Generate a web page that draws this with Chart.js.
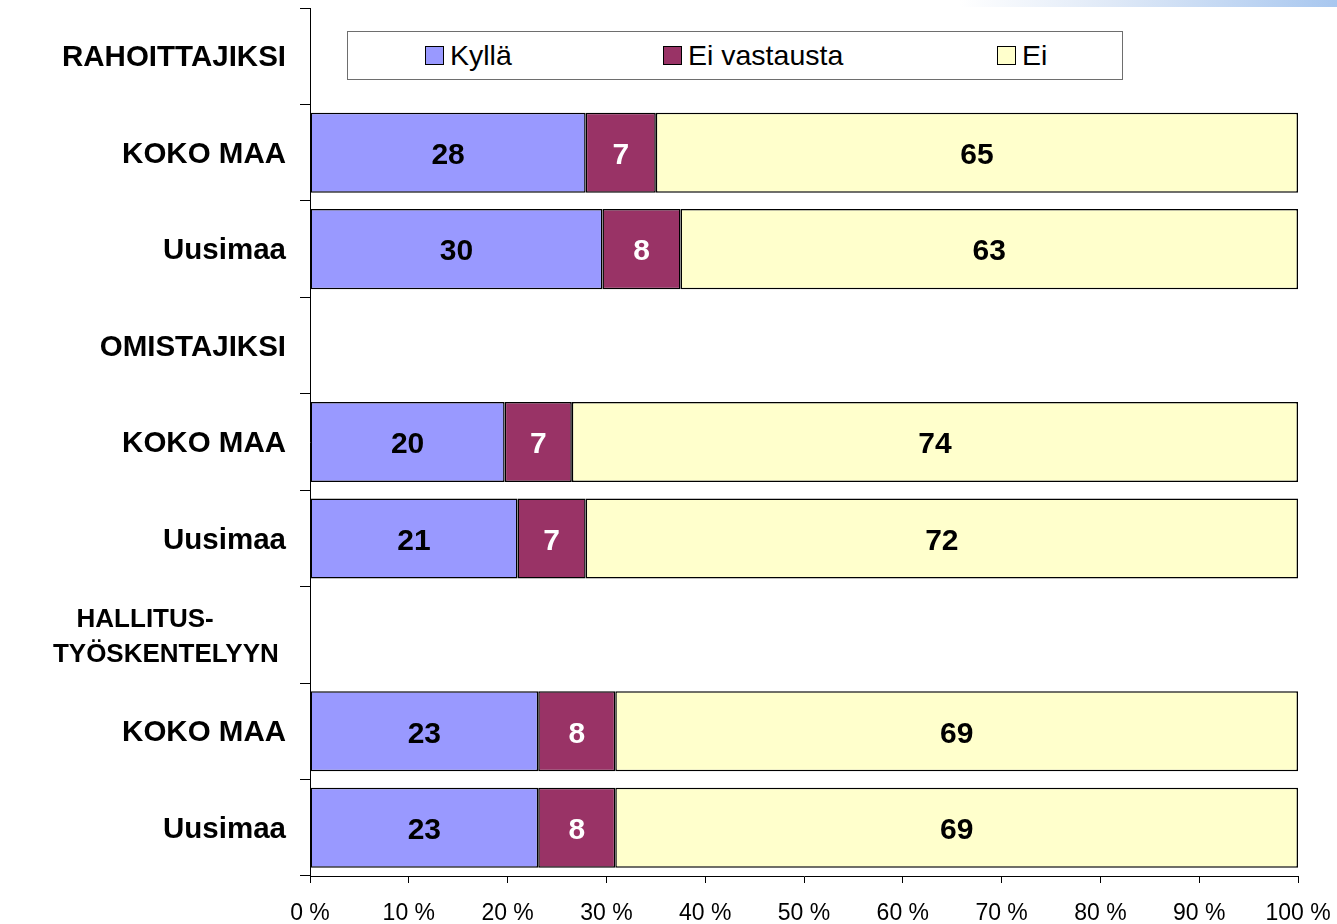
<!DOCTYPE html>
<html>
<head>
<meta charset="utf-8">
<script src="https://cdn.jsdelivr.net/npm/chart.js@4"></script>
<style>
  body{margin:0;background:#fff;font-family:"Liberation Sans",Arial,sans-serif;}
  #wrap{position:relative;width:1337px;height:924px;}
  #band{position:absolute;top:0;left:960px;width:377px;height:7px;
        background:linear-gradient(to right,#ffffff 0%,#dfe9f7 40%,#a8c7ef 100%);}
  #legend{position:absolute;left:347px;top:31px;width:774px;height:47px;
          border:1px solid #6e6e6e;background:#fff;font-size:28.5px;color:#000;}
  .item{position:absolute;top:0;height:47px;line-height:47px;white-space:nowrap;}
  .sw{display:inline-block;width:17px;height:17px;border:1px solid #000;
      vertical-align:middle;margin-right:6px;position:relative;top:-2px;}
</style>
</head>
<body>
<div id="wrap">
  <div id="band"></div>
  <canvas id="chart"></canvas>
  <div id="legend">
    <div class="item" style="left:77px"><span class="sw" style="background:#9999ff"></span>Kyllä</div>
    <div class="item" style="left:315px"><span class="sw" style="background:#993366"></span>Ei vastausta</div>
    <div class="item" style="left:649px"><span class="sw" style="background:#ffffcc"></span>Ei</div>
  </div>
</div>
<script>
// categories, header rows have no bars
const categories = [
  'RAHOITTAJIKSI', 'KOKO MAA', 'Uusimaa',
  'OMISTAJIKSI', 'KOKO MAA', 'Uusimaa',
  ['HALLITUS-          ', 'TYÖSKENTELYYN '], 'KOKO MAA', 'Uusimaa'
];
const kylla       = [null, 27.9, 29.6, null, 19.7, 21.0, null, 23.1, 23.1];
const eiVastausta = [null, 7.1, 7.9, null, 6.8, 6.9, null, 7.8, 7.8];
const ei          = [null, 65.0, 62.5, null, 73.5, 72.1, null, 69.1, 69.1];
const xTicks = [0, 10, 20, 30, 40, 50, 60, 70, 80, 90, 100];

const FONT = '"Liberation Sans", Arial, sans-serif';

// value labels in the middle of each bar segment
const barLabels = {
  id: 'barLabels',
  afterDatasetsDraw(chart) {
    const ctx = chart.ctx;
    ctx.save();
    ctx.font = 'bold 30px ' + FONT;
    ctx.textAlign = 'center';
    ctx.textBaseline = 'middle';
    chart.data.datasets.forEach((ds, i) => {
      const meta = chart.getDatasetMeta(i);
      ctx.fillStyle = ds.labelColor;
      meta.data.forEach((bar, j) => {
        const v = ds.data[j];
        if (v == null) return;
        const p = bar.getProps(['x', 'base', 'y'], true);
        ctx.fillText(Math.round(v), (p.x + p.base) / 2, p.y + 3);
      });
    });
    ctx.restore();
  }
};

const ctx = document.getElementById('chart');
new Chart(ctx, {
  type: 'bar',
  data: {
    labels: categories,
    datasets: [
      {label: 'Kyllä', data: kylla, backgroundColor: '#9999ff', labelColor: '#000'},
      {label: 'Ei vastausta', data: eiVastausta, backgroundColor: '#993366', labelColor: '#fff'},
      {label: 'Ei', data: ei, backgroundColor: '#ffffcc', labelColor: '#000'}
    ].map(d => Object.assign(d, {
      borderColor: '#000', borderWidth: 1.5, borderSkipped: false,
      barPercentage: 0.83, categoryPercentage: 1.0
    }))
  },
  options: {
    indexAxis: 'y',
    responsive: true,
    maintainAspectRatio: false,
    animation: false,
    layout: {padding: {top: 8, right: 39, left: 0, bottom: 0}},
    plugins: {legend: {display: false}, tooltip: {enabled: false}},
    scales: {
      x: {
        stacked: true, min: 0, max: 100,
        afterFit: s => { s.height = 48; s.paddingLeft = 0; s.paddingRight = 0; },
        afterBuildTicks: s => { s.ticks = xTicks.map(v => ({value: v})); },
        grid: {drawOnChartArea: false, tickLength: 7, color: '#000'},
        border: {color: '#000'},
        ticks: {
          color: '#000', padding: 17, maxRotation: 0, autoSkip: false,
          font: {family: FONT, size: 23},
          callback: v => v + ' %'
        }
      },
      y: {
        stacked: true,
        afterFit: s => { s.width = 310; s.paddingTop = 0; s.paddingBottom = 0; },
        grid: {drawOnChartArea: false, tickLength: 10, color: '#000'},
        border: {color: '#000'},
        ticks: {
          color: '#000', padding: 14, autoSkip: false, labelOffset: 2,
          font: c => c.index === 6
            ? {family: FONT, size: 26, weight: 'bold', lineHeight: 1.35}
            : {family: FONT, size: 29.5, weight: 'bold', lineHeight: 1.2}
        }
      }
    }
  },
  plugins: [barLabels]
});
</script>
</body>
</html>
